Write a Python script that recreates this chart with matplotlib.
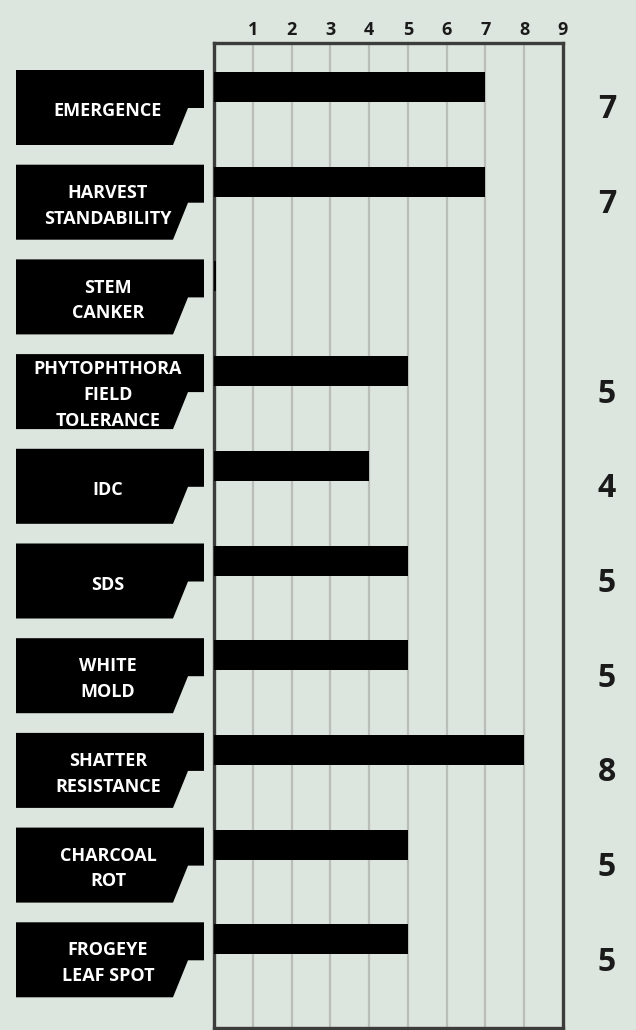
import matplotlib
matplotlib.use("Agg")
import matplotlib.pyplot as plt
from matplotlib.patches import Polygon

categories = ["EMERGENCE", "HARVEST\nSTANDABILITY", "STEM\nCANKER",
              "PHYTOPHTHORA\nFIELD\nTOLERANCE", "IDC", "SDS", "WHITE\nMOLD",
              "SHATTER\nRESISTANCE", "CHARCOAL\nROT", "FROGEYE\nLEAF SPOT"]
values = [7, 7, 0.06, 5, 4, 5, 5, 8, 5, 5]
value_labels = ["7", "7", "", "5", "4", "5", "5", "8", "5", "5"]
ticks = [1, 2, 3, 4, 5, 6, 7, 8, 9]

FONT = "Open Sans"
BG = "#DCE5DE"
W, H = 636, 1030
fig = plt.figure(figsize=(W / 100, H / 100), dpi=100, facecolor=BG)

ax_l, ax_r, ax_t, ax_b = 214, 563, 43, 1028
ax = fig.add_axes([ax_l / W, 1 - ax_b / H, (ax_r - ax_l) / W, (ax_b - ax_t) / H])
ax.set_facecolor(BG)

step = 94.7
c0 = 87.0
ymin = (ax_t - c0) / step
ymax = (ax_b - c0) / step
ax.set_ylim(ymax, ymin)
ax.set_xlim(0, 9)

for t in ticks[:-1]:
    ax.axvline(t, color="#B9BEB9", lw=1.6, zorder=1)

ypos = list(range(len(categories)))
ax.barh(ypos, values, height=30 / step, color="black", zorder=3)

for s in ax.spines.values():
    s.set_color("#3C3C3C")
    s.set_linewidth(2.4)
    s.set_zorder(2)

ax.set_xticks(ticks)
ax.set_xticklabels([str(t) for t in ticks])
ax.xaxis.tick_top()
ax.tick_params(axis="x", length=0, pad=3)
for lab in ax.get_xticklabels():
    lab.set_fontfamily(FONT)
    lab.set_fontweight("bold")
    lab.set_fontsize(13)
    lab.set_color("#1a1a1a")
ax.set_yticks([])

ov = fig.add_axes([0, 0, 1, 1], facecolor="none")
ov.set_xlim(0, W)
ov.set_ylim(H, 0)
ov.axis("off")

for i, (cat, vl) in enumerate(zip(categories, value_labels)):
    top = 70 + step * i
    poly = Polygon([(16, top), (204, top), (204, top + 38), (188, top + 38),
                    (173, top + 75), (16, top + 75)], closed=True,
                   facecolor="black", edgecolor="none")
    ov.add_patch(poly)
    t = ov.text(108, top + 41, cat, ha="center", va="center", color="white",
                fontsize=13, fontweight="bold", family=FONT, linespacing=1.55)
    t.set_clip_path(poly)
    if vl:
        ov.text(607, top + 40, vl, ha="center", va="center", color="#1a1a1a",
                fontsize=23, fontweight="bold", family=FONT)

fig.savefig("out.png", dpi=100, facecolor=BG)
